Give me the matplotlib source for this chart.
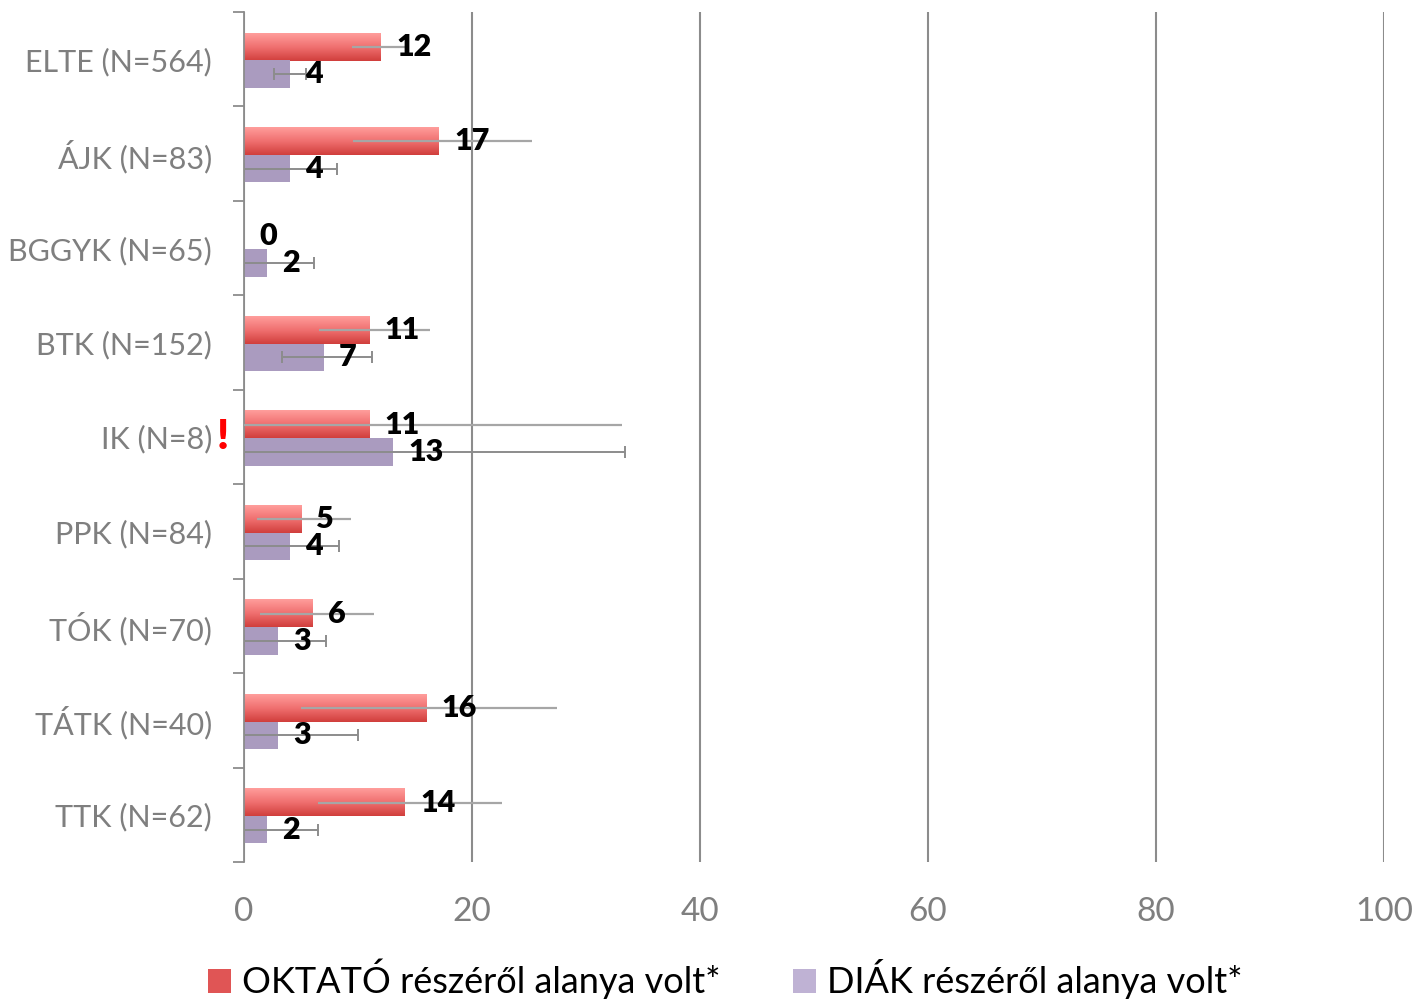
import matplotlib.pyplot as plt
import numpy as np
from matplotlib.patches import Patch
from matplotlib.colors import LinearSegmentedColormap
from matplotlib.transforms import blended_transform_factory

plt.rcParams['font.family'] = ['Lato', 'DejaVu Sans']

karok = ['ELTE (N=564)', 'ÁJK (N=83)', 'BGGYK (N=65)', 'BTK (N=152)', 'IK (N=8)',
         'PPK (N=84)', 'TÓK (N=70)', 'TÁTK (N=40)', 'TTK (N=62)']
oktato = [12.0, 17.1, 0.0, 11.0, 11.0, 5.0, 6.0, 16.0, 14.1]
diak = [4.0, 4.0, 2.0, 7.0, 13.1, 4.0, 3.0, 3.0, 2.0]
oktato_err_le = [2.5, 7.5, 0.0, 4.4, 11.0, 3.9, 4.6, 11.0, 7.6]
oktato_err_fe = [2.5, 8.2, 0.0, 5.3, 22.2, 4.4, 5.4, 11.5, 8.5]
diak_err_le = [1.4, 4.0, 2.0, 3.7, 13.1, 4.0, 3.0, 3.0, 2.0]
diak_err_fe = [1.4, 4.2, 4.1, 4.2, 20.3, 4.3, 4.2, 7.0, 4.5]
oktato_cimke = ['12', '17', '0', '11', '11', '5', '6', '16', '14']
diak_cimke = ['4', '4', '2', '7', '13', '4', '3', '3', '2']

fig = plt.figure(figsize=(14.16, 9.99), dpi=100)
ax = fig.add_axes([0.1723, 0.137, 0.8051, 0.851])

y = np.arange(len(karok))
h = 0.29
ok_y = y - 0.13
di_y = y + 0.157

# piros bar szinatmenettel
grad = np.linspace(0, 1, 50).reshape(-1, 1)
piros = LinearSegmentedColormap.from_list('piros', ['#ff9d9b', '#f07070', '#d13f3d'])
for i, v in enumerate(oktato):
    if v > 0:
        ax.imshow(grad, cmap=piros, aspect='auto', zorder=2,
                  extent=[0, v, ok_y[i] + h / 2, ok_y[i] - h / 2])

ax.barh(di_y, diak, height=h, color='#aa9bbf', zorder=2)

ax.errorbar(oktato, ok_y, xerr=[oktato_err_le, oktato_err_fe], fmt='none',
            ecolor='#a6a6a6', elinewidth=1.6, capsize=0, zorder=3)
ax.errorbar(diak, di_y, xerr=[diak_err_le, diak_err_fe], fmt='none',
            ecolor='#8c8c8c', elinewidth=1.4, capsize=4, capthick=1.4, zorder=3)

for i in range(len(karok)):
    ax.annotate(oktato_cimke[i], (oktato[i], ok_y[i]), xytext=(11, 0),
                textcoords='offset points', va='center', ha='left',
                fontsize=22, fontweight='heavy', zorder=4)
    ax.annotate(diak_cimke[i], (diak[i], di_y[i]), xytext=(11, 0),
                textcoords='offset points', va='center', ha='left',
                fontsize=22, fontweight='heavy', zorder=4)

ax.set_xlim(0, 100)
ax.set_ylim(len(karok) - 0.5, -0.5)
ax.set_xticks([0, 20, 40, 60, 80, 100])
ax.set_yticks(y)
ax.set_yticklabels(karok)
ax.set_yticks(np.arange(-0.5, len(karok)), minor=True)
ax.tick_params(axis='y', which='major', length=0, pad=23, labelsize=22, labelcolor='#7f7f7f')
ax.tick_params(axis='y', which='minor', length=8, width=1.3, color='#8c8c8c', direction='out')
ax.tick_params(axis='x', length=0, pad=25, labelsize=24, labelcolor='#7f7f7f')
ax.grid(axis='x', color='#8c8c8c', linewidth=1.5, zorder=0)
ax.set_axisbelow(True)
for s in ['top', 'right', 'bottom']:
    ax.spines[s].set_visible(False)
ax.spines['left'].set_color('#8c8c8c')
ax.spines['left'].set_linewidth(1.3)

trans = blended_transform_factory(ax.transAxes, ax.transData)
ax.text(-0.019, 4, '!', transform=trans, color='#ff0000', fontsize=30,
        fontweight='heavy', ha='center', va='center')

handles = [Patch(facecolor='#e05555', edgecolor='none'),
           Patch(facecolor='#bfb2d4', edgecolor='none')]
fig.legend(handles, ['OKTATÓ részéről alanya volt*', 'DIÁK részéről alanya volt*'],
           loc='lower center', bbox_to_anchor=(0.512, -0.033), ncol=2, frameon=False,
           fontsize=26, handlelength=0.65, handleheight=0.65, handletextpad=0.3,
           columnspacing=2.0)

fig.savefig('out.png', dpi=100)
